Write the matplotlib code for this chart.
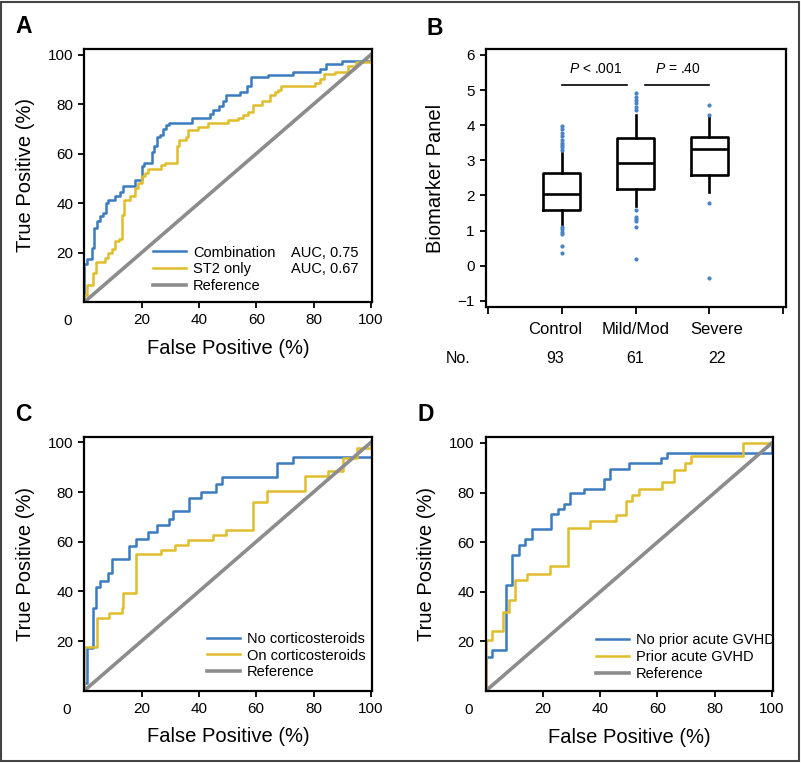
import matplotlib.pyplot as plt
from matplotlib.lines import Line2D
from matplotlib.patches import Rectangle

plt.rcParams["font.family"] = ["Liberation Sans", "DejaVu Sans"]
plt.rcParams["mathtext.fontset"] = "custom"
plt.rcParams["mathtext.it"] = "Liberation Sans:italic"
plt.rcParams["mathtext.rm"] = "Liberation Sans"

BLUE = "#3b7bbf"
YELLOW = "#e0bd2a"
GRAY = "#8c8c8c"
DOT = "#4a84c4"

# ROC curves are stored as step corners (FPR %, TPR %), drawn with where="post"
# Panel A
a_combo_fpr = [0, 0, 1.0, 2.5, 3.3, 4.3, 5.4, 6.4, 7.5, 8.3, 10.7, 12.4, 13.6, 17.7, 20.0, 20.8,
               23.5, 24.3, 25.4, 26.4, 27.5, 28.5, 29.6, 37.4, 43.8, 45.0, 47.1, 48.3, 49.5, 54.3,
               56.6, 58.0, 64.2, 72.9, 82.2, 84.3, 89.8, 100]
a_combo_tpr = [0, 15.3, 17.3, 22.0, 30.0, 32.7, 34.7, 36.0, 40.0, 41.4, 42.7, 44.3, 47.0, 49.4, 55.0, 56.4,
               60.8, 63.1, 66.8, 67.7, 70.1, 71.5, 72.4, 74.4, 75.9, 77.8, 79.3, 81.3, 83.5, 85.0,
               87.5, 90.8, 91.8, 92.8, 94.3, 96.2, 97.4, 100]
a_st2_fpr = [0, 0, 1.0, 3.1, 4.0, 7.2, 8.3, 9.5, 10.7, 12.2, 13.0, 13.8, 15.9, 17.7, 18.8, 20.0, 21.1,
             22.3, 26.9, 28.1, 32.2, 32.9, 35.4, 36.3, 39.7, 43.2, 50.2, 53.7, 55.4, 57.2, 59.0, 61.9,
             64.8, 66.5, 67.7, 68.5, 80.5, 82.2, 83.6, 87.4, 91.9, 94.9, 100]
a_st2_tpr = [0, 3.0, 6.8, 11.9, 16.2, 17.9, 19.9, 21.3, 24.6, 25.6, 35.3, 41.4, 42.7, 46.0, 48.1, 51.0, 52.1,
             53.7, 55.4, 56.4, 63.1, 65.5, 66.8, 69.7, 70.8, 72.2, 73.4, 74.5, 75.5, 76.8, 79.5, 81.3,
             83.5, 84.9, 85.8, 87.5, 88.6, 90.2, 92.2, 92.9, 95.6, 97.0, 100]
a_labels = ["Combination", "ST2 only"]
a_auc = ["AUC, 0.75", "AUC, 0.67"]

# Panel C
c_no_fpr = [0, 0, 1.0, 2.9, 4.0, 5.4, 8.3, 9.7, 15.7, 18.2, 22.3, 25.4, 29.6, 30.8, 36.6, 40.6,
            46.1, 47.9, 67.2, 72.9, 100]
c_no_tpr = [0, 2.9, 17.0, 33.2, 41.6, 44.3, 47.3, 52.9, 58.3, 61.0, 64.1, 66.8, 69.0, 72.2, 77.5, 80.2,
            83.3, 86.0, 91.6, 94.3, 94.3]
c_on_fpr = [0, 0, 4.3, 8.7, 13.0, 13.6, 18.2, 26.9, 31.6, 36.3, 45.0, 49.6, 58.9, 63.6, 77.0, 85.1,
            90.3, 95.0, 100]
c_on_tpr = [0, 17.7, 29.3, 31.3, 33.2, 39.2, 55.0, 56.7, 58.7, 60.7, 62.5, 64.8, 76.1, 80.3, 86.3, 88.3,
            93.6, 97.6, 100]
c_labels = ["No corticosteroids", "On corticosteroids"]

# Panel D
d_no_fpr = [0, 0, 2.1, 7.2, 9.1, 11.5, 13.8, 16.1, 22.8, 25.1, 27.5, 29.6, 34.3, 41.3, 43.4, 50.0,
            61.3, 63.5, 100]
d_no_tpr = [0, 13.9, 16.4, 42.9, 55.0, 59.0, 61.3, 65.3, 71.5, 73.3, 75.5, 79.8, 81.4, 85.3, 89.7, 91.9,
            93.9, 96.0, 100]
d_prior_fpr = [0, 0, 2.1, 6.2, 8.3, 10.3, 14.4, 22.6, 28.6, 36.6, 45.4, 48.9, 51.2, 53.5, 61.7, 65.8,
               69.5, 71.6, 90.0, 100]
d_prior_tpr = [0, 20.7, 24.0, 31.7, 36.8, 44.6, 47.3, 50.2, 65.7, 68.4, 71.1, 76.5, 79.0, 81.5, 84.2, 89.3,
               91.9, 94.6, 100, 100]
d_labels = ["No prior acute GVHD", "Prior acute GVHD"]

ref_line = [0, 100]
roc_ticks = [20, 40, 60, 80, 100]

# Panel B: box plot summaries
groups = ["Control", "Mild/Mod", "Severe"]
counts = [93, 61, 22]
q1 = [1.57, 2.19, 2.58]
med = [2.03, 2.92, 3.31]
q3 = [2.64, 3.62, 3.66]
whislo = [1.16, 1.71, 2.10]
whishi = [3.21, 4.28, 4.22]
fliers = [
    [3.29, 3.37, 3.44, 3.50, 3.58, 3.69, 3.79, 3.88, 3.98, 1.11, 1.03, 0.97, 0.90, 0.57, 0.35],
    [4.43, 4.53, 4.62, 4.72, 4.81, 4.91, 1.58, 1.39, 1.32, 1.26, 1.11, 0.18],
    [4.29, 4.56, 1.79, -0.34],
]
b_ticks = [-1, 0, 1, 2, 3, 4, 5, 6]

fig = plt.figure(figsize=(8.01, 7.63), dpi=100)

leg_kw = dict(frameon=False, fontsize=10.5, handlelength=2.26, handletextpad=0.48,
              labelspacing=0.2, borderpad=0, borderaxespad=0)


def style_axes(ax):
    for s in ax.spines.values():
        s.set_linewidth(1.6)
    ax.tick_params(direction="out", length=4, width=1.3, labelsize=11, pad=4)


def roc_panel(rect, curves, labels, leg_xy):
    ax = fig.add_axes(rect)
    for (fpr, tpr), color, label in zip(curves, [BLUE, YELLOW], labels):
        ax.step(fpr, tpr, where="post", color=color, lw=1.8, label=label)
    ax.plot(ref_line, ref_line, color=GRAY, lw=2.6, label="Reference")
    ax.set_xlim(0, 100.5)
    ax.set_ylim(0, 102.3)
    ax.set_xticks(roc_ticks)
    ax.set_yticks(roc_ticks)
    style_axes(ax)
    ax.annotate("0", xy=(0, 0), xycoords="axes fraction", xytext=(-13, -12),
                textcoords="offset pixels", ha="right", va="top", fontsize=11)
    ax.set_xlabel("False Positive (%)", fontsize=14.5)
    ax.set_ylabel("True Positive (%)", fontsize=14.5)
    ax.xaxis.set_label_coords(0.5, -0.145)
    ax.yaxis.set_label_coords(-0.172, 0.5)
    if leg_xy is not None:
        ax.legend(loc="lower left", bbox_to_anchor=leg_xy, **leg_kw)
    return ax


# Panel A
ax_a = roc_panel([0.1054, 0.6042, 0.3594, 0.3316],
                 [(a_combo_fpr, a_combo_tpr), (a_st2_fpr, a_st2_tpr)], a_labels, None)
h, l = ax_a.get_legend_handles_labels()
blank = Line2D([], [], linestyle="none")
ax_a.legend(h + [blank, blank], l + a_auc, ncol=2, loc="lower left",
            bbox_to_anchor=(0.238, 0.034), columnspacing=-1.63, **leg_kw)

# Panel C
roc_panel([0.1052, 0.0948, 0.3596, 0.3329],
          [(c_no_fpr, c_no_tpr), (c_on_fpr, c_on_tpr)], c_labels, (0.427, 0.044))

# Panel D
roc_panel([0.6064, 0.0944, 0.3590, 0.3325],
          [(d_no_fpr, d_no_tpr), (d_prior_fpr, d_prior_tpr)], d_labels, (0.382, 0.039))

# Panel B
ax_b = fig.add_axes([0.6067, 0.5980, 0.3745, 0.3374])
stats = [dict(med=m, q1=a, q3=b, whislo=lo, whishi=hi, fliers=f)
         for m, a, b, lo, hi, f in zip(med, q1, q3, whislo, whishi, fliers)]
ax_b.bxp(stats, positions=[1, 2, 3], widths=0.5, showcaps=False,
         boxprops=dict(color="black", lw=1.9),
         medianprops=dict(color="black", lw=1.9),
         whiskerprops=dict(color="black", lw=1.9),
         flierprops=dict(marker="o", markersize=3, markerfacecolor=DOT, markeredgecolor="none"))
ax_b.set_xlim(-0.03, 4.04)
ax_b.set_ylim(-1.17, 6.16)
ax_b.set_yticks(b_ticks)
ax_b.set_yticklabels([str(t).replace("-", "\u2212") for t in b_ticks])
ax_b.set_xticks([0, 1, 2, 3, 4])
ax_b.set_xticklabels([])
style_axes(ax_b)
ax_b.tick_params(axis="x", length=5)
ax_b.set_ylabel("Biomarker Panel", fontsize=14.5)
ax_b.yaxis.set_label_coords(-0.137, 0.5)

xt = ax_b.get_xaxis_transform()
label_x = [0.91, 2.0, 3.1]
for x, g, n in zip(label_x, groups, counts):
    ax_b.text(x, -0.087, g, transform=xt, ha="center", va="center", fontsize=12, clip_on=False)
    ax_b.text(x, -0.20, str(n), transform=xt, ha="center", va="center", fontsize=11.5, clip_on=False)
ax_b.text(-0.41, -0.20, "No.", transform=xt, ha="center", va="center", fontsize=11.5, clip_on=False)

ax_b.plot([1.0, 1.88], [5.15, 5.15], color="black", lw=1.2)
ax_b.plot([2.13, 3.0], [5.15, 5.15], color="black", lw=1.2)
ax_b.text(1.46, 5.59, "$P$ < .001", ha="center", va="center", fontsize=10)
ax_b.text(2.57, 5.59, "$P$ = .40", ha="center", va="center", fontsize=10)

# panel letters
for letter, x, y in [("A", 15, 33.3), ("B", 427, 35), ("C", 15, 421.5), ("D", 417, 421.5)]:
    fig.text(x / 801, 1 - y / 763, letter, ha="left", va="baseline",
             fontsize=16.5, fontweight="bold")

fig.add_artist(Rectangle((0.001, 0.002), 0.996, 0.996, transform=fig.transFigure,
                         fill=False, lw=1.5, edgecolor="#444444"))

plt.savefig("out.png", dpi=100)
